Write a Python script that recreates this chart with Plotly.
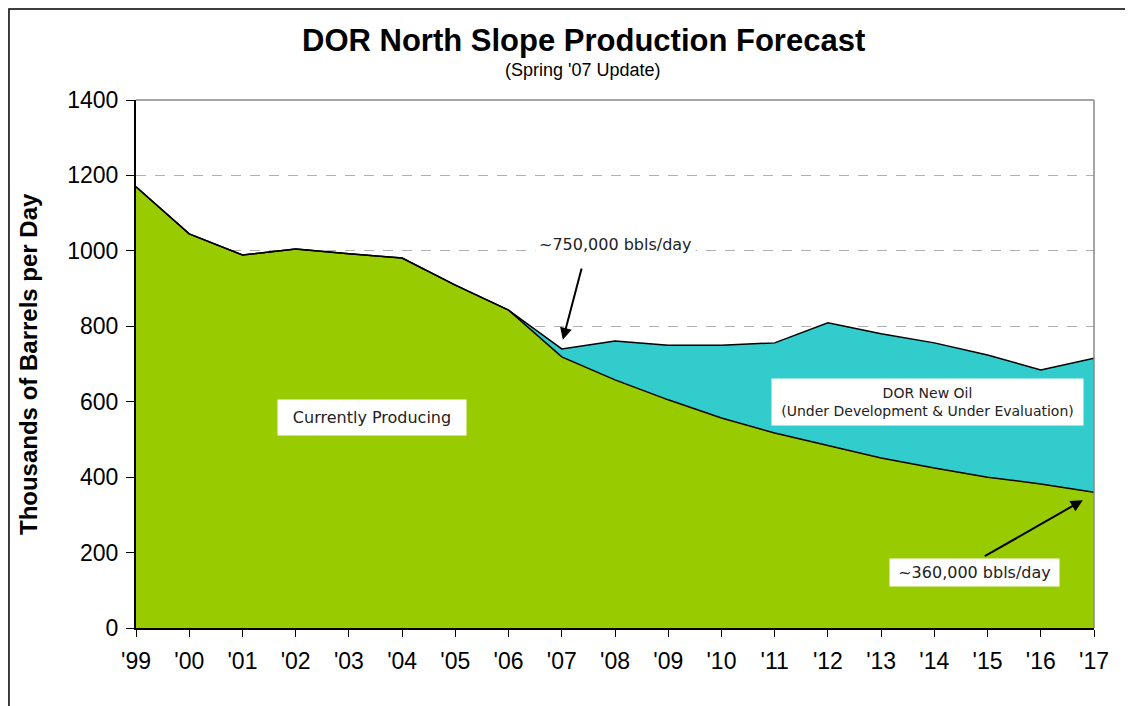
import plotly.graph_objects as go

years = list(range(1999, 2018))
year_labels = ["'99", "'00", "'01", "'02", "'03", "'04", "'05", "'06", "'07", "'08",
               "'09", "'10", "'11", "'12", "'13", "'14", "'15", "'16", "'17"]
currently_producing = [1170, 1045, 989, 1005, 992, 981, 909, 843, 719, 658,
                       605, 557, 517, 483, 451, 424, 400, 382, 360]
dor_new_oil = [0, 0, 0, 0, 0, 0, 0, 0, 21, 103,
               145, 193, 239, 326, 329, 332, 324, 302, 355]
y_ticks = [0, 200, 400, 600, 800, 1000, 1200, 1400]

GREEN = "#99CC00"
CYAN = "#33CCCC"
FONT = "Liberation Sans, Arial, sans-serif"
LFONT = "DejaVu Sans, Verdana, sans-serif"

fig = go.Figure()
fig.add_trace(go.Scatter(
    x=years, y=currently_producing, stackgroup="a", mode="lines",
    line=dict(color="black", width=1.5), fillcolor=GREEN, name="Currently Producing",
    hoverinfo="x+y"))
fig.add_trace(go.Scatter(
    x=years, y=dor_new_oil, stackgroup="a", mode="lines",
    line=dict(color="black", width=1.5), fillcolor=CYAN, name="DOR New Oil",
    hoverinfo="x+y"))

annotations = [
    dict(text="<b>DOR North Slope Production Forecast</b>", xref="paper", yref="paper",
         x=0.4666, y=1.1136, showarrow=False, font=dict(family=FONT, size=31, color="black"),
         yanchor="middle"),
    dict(text="(Spring '07 Update)", xref="paper", yref="paper",
         x=0.4666, y=1.0568, showarrow=False, font=dict(family=FONT, size=18, color="black"),
         yanchor="middle"),
    dict(text="<b>Thousands of Barrels per Day</b>", xref="paper", yref="paper",
         x=-0.1127, y=0.5, textangle=-90, showarrow=False,
         font=dict(family=FONT, size=24, color="black"), xanchor="center", yanchor="middle"),
    dict(text="Currently Producing", x=2003.43, y=559, xref="x", yref="y", showarrow=False,
         bgcolor="white", borderpad=8, font=dict(family=LFONT, size=16, color="#222"),
         width=172),
    dict(text="DOR New Oil<br>(Under Development & Under Evaluation)", x=2013.88, y=599,
         xref="x", yref="y", showarrow=False, bgcolor="white", borderpad=6,
         font=dict(family=LFONT, size=14, color="#222"), width=299),
    dict(text="~750,000 bbls/day", x=2008.0, y=1018, xref="x", yref="y", showarrow=False,
         bgcolor="white", borderpad=3, font=dict(family=LFONT, size=16, color="#222")),
    dict(text="", x=2007.02, y=764, ax=2007.38, ay=957, xref="x", yref="y",
         axref="x", ayref="y", showarrow=True, arrowhead=2, arrowsize=1.2, arrowwidth=2,
         arrowcolor="black"),
    dict(text="~360,000 bbls/day", x=2014.75, y=148, xref="x", yref="y", showarrow=False,
         bgcolor="white", borderpad=4, font=dict(family=LFONT, size=16, color="#222"),
         width=161),
    dict(text="", x=2016.79, y=339, ax=2014.92, ay=188, xref="x", yref="y",
         axref="x", ayref="y", showarrow=True, arrowhead=2, arrowsize=1.2, arrowwidth=2,
         arrowcolor="black"),
]

shapes = [
    dict(type="line", xref="paper", yref="paper", x0=0, x1=1, y0=1, y1=1,
         line=dict(color="#888", width=1.5)),
    dict(type="line", xref="paper", yref="paper", x0=1, x1=1, y0=0, y1=1,
         line=dict(color="#888", width=1.5)),
    dict(type="rect", xref="paper", yref="paper", x0=-0.1326, x1=1.2, y0=-0.3, y1=1.1723,
         line=dict(color="black", width=1.5), layer="below"),
]

# page body has an 8px margin, so the figure is sized/offset to land on the reference layout
fig.update_layout(
    width=1125, height=698,
    margin=dict(l=128, r=39, t=92, b=78),
    paper_bgcolor="white", plot_bgcolor="white",
    showlegend=False,
    annotations=annotations,
    shapes=shapes,
    xaxis=dict(range=[1999, 2017], tickmode="array", tickvals=years, ticktext=year_labels,
               showgrid=False, zeroline=False, showline=True, linecolor="black", linewidth=2,
               ticks="outside", ticklen=7, tickcolor="black", tickwidth=1,
               ticklabelstandoff=4,
               tickfont=dict(family=FONT, size=23, color="black")),
    yaxis=dict(range=[0, 1400], tickmode="array", tickvals=y_ticks,
               showgrid=True, gridcolor="#b0b0b0", griddash="10px,9px", gridwidth=1,
               zeroline=False, showline=True, linecolor="black", linewidth=2,
               ticks="outside", ticklen=8, tickcolor="black", tickwidth=1,
               ticklabelstandoff=3,
               tickfont=dict(family=FONT, size=23, color="black")),
)

fig.write_html("out.html")
